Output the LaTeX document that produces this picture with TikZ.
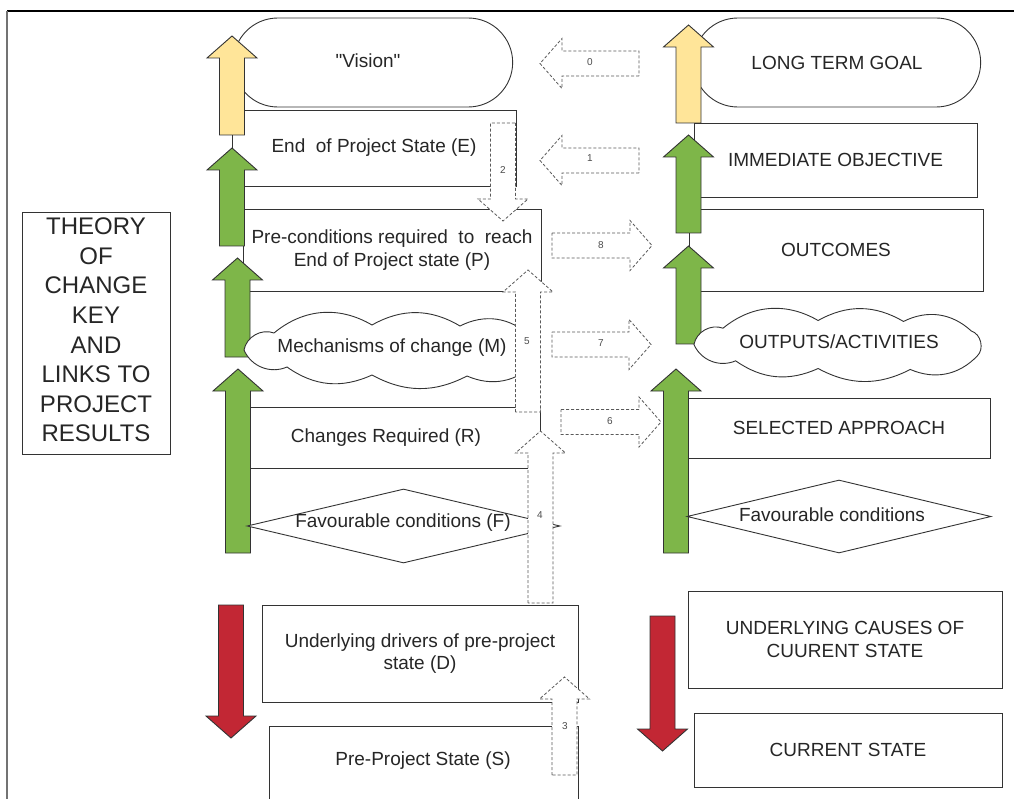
\documentclass[tikz,border=0pt]{standalone}
\usepackage{fontspec}
\setmainfont{Liberation Sans}
\usetikzlibrary{shapes.geometric, shapes.misc}
\definecolor{tocYellow}{RGB}{255,229,153}
\definecolor{tocGreen}{RGB}{126,182,73}
\definecolor{tocRed}{RGB}{194,39,52}
\definecolor{tocLine}{RGB}{51,51,51}
\newcommand{\blockarrow}[5]{%
\draw[#1, shift={(#2,#3)}, rotate=#4] (0,-12.5) -- ({#5-22},-12.5) -- ({#5-22},-25) -- (#5,0) -- ({#5-22},25) -- ({#5-22},12.5) -- (0,12.5) -- cycle;}
\tikzset{cloudy/.pic={
\draw[pic actions] (-148,0) to[bend left=50] (-118,-17) to[bend left=35] (-20,-25) to[bend left=30] (68,-24) to[bend left=35] (138,-14) to[bend left=60] (144,12) to[bend left=35] (75,26) to[bend left=28] (-20,25) to[bend left=30] (-105,17) to[bend left=45] (-148,0) -- cycle;
}}

\begin{document}
\begin{tikzpicture}[x=1pt, y=-1pt,
  every node/.style={font=\fontsize{19}{22.5}\selectfont, text=black!85},
  box/.style={draw=tocLine, fill=white, line width=0.9pt, inner sep=0pt, align=center},
  goal/.style={rounded rectangle, draw=tocLine, fill=white, line width=0.9pt},
  puff/.style={draw=tocLine, fill=white, line width=0.9pt},
  cond/.style={diamond, draw=tocLine, fill=white, line width=0.9pt, inner sep=0pt},
  yel/.style={draw=black!80, fill=tocYellow, line width=0.9pt},
  grn/.style={draw=black!80, fill=tocGreen, line width=0.9pt},
  redarr/.style={draw=black!80, fill=tocRed, line width=0.9pt},
  dasharr/.style={draw=black!65, fill=white, line width=0.8pt, dash pattern=on 3pt off 2pt},
  num/.style={font=\fontsize{10}{12}\selectfont, text=black!70}]
\useasboundingbox (0,0) rectangle (1014,799);
\draw[line width=1.3pt] (7,11) -- (1014,11);
\draw[black!55, line width=2pt] (7,11) -- (7,799);

\node[box, minimum width=148, minimum height=242] (key) at (96,333) {};
\node[align=center, font=\fontsize{24}{29.6}\selectfont] (keyt) at (96,330) {THEORY\\OF\\CHANGE\\KEY\\AND\\LINKS TO\\PROJECT\\RESULTS};

\node[goal, minimum width=286, minimum height=89] (vis) at (373,62.5) {};
\node (vist) at (368,61) {\textquotedbl Vision\textquotedbl};
\node[box, minimum width=284, minimum height=76] (eps) at (374,148) {End\ \ of Project State (E)};
\node[box, minimum width=298, minimum height=82] (pre) at (392,250) {Pre-conditions required\ \ to\ \ reach\\End of Project state (P)};
\node[box, minimum width=308, minimum height=61] (chg) at (386,437.5) {Changes Required (R)};
\node[box, minimum width=316, minimum height=97] (drv) at (420,653.5) {Underlying drivers of pre-project\\state (D)};
\node[box, minimum width=309, minimum height=90] (pps) at (423.5,771) {};
\node (ppst) at (423,761) {Pre-Project State (S)};

\node[goal, minimum width=294, minimum height=89] (ltg) at (837,62.5) {LONG TERM GOAL};
\node[box, minimum width=283, minimum height=74] (imo) at (835.5,160) {IMMEDIATE OBJECTIVE};
\node[box, minimum width=294, minimum height=82] (outc) at (836,250) {OUTCOMES};
\node[box, minimum width=302, minimum height=60] (sel) at (839,428) {SELECTED APPROACH};
\node[box, minimum width=314, minimum height=97] (ucs) at (845,639.5) {UNDERLYING CAUSES OF\\CUURENT STATE};
\node[box, minimum width=308, minimum height=74] (cst) at (848,750) {CURRENT STATE};

\blockarrow{yel}{232}{135}{90}{99}
\blockarrow{grn}{232}{246}{90}{98}
\blockarrow{grn}{237.5}{357}{90}{99}
\blockarrow{grn}{238}{553}{90}{184}
\blockarrow{redarr}{231}{605}{-90}{133}
\blockarrow{yel}{688.5}{123}{90}{98}
\blockarrow{grn}{688.5}{233}{90}{98}
\blockarrow{grn}{688.5}{344}{90}{98}
\blockarrow{grn}{676}{553}{90}{184}
\blockarrow{redarr}{662.5}{616}{-90}{135}

\pic[puff] (mech) at (392,350) {cloudy};
\node (mecht) at (392,348) {Mechanisms of change (M)};
\node[cond, minimum width=313, minimum height=74] (favl) at (403.5,526) {};
\node (favlt) at (403,523) {Favourable conditions (F)};
\pic[puff, xscale=0.97, yscale=0.96] (outp) at (837.5,344.5) {cloudy};
\node (outpt) at (839,342) {OUTPUTS/ACTIVITIES};
\node[cond, minimum width=304, minimum height=73] (favr) at (839,516.5) {};
\node (favrt) at (832,515) {Favourable conditions};

\foreach \x/\y/\ang/\len in {639/63.5/180/99, 639/160.5/180/99, 503/123/-90/98, 552/245.5/0/100, 528/412/90/142, 552/344.5/0/99, 561/422/0/100, 540.5/603/90/172, 564.5/775/90/98}{
\blockarrow{dasharr}{\x}{\y}{\ang}{\len}
}
\foreach \x/\y/\lab in {590/62/0, 590/158/1, 503/170/2, 565/726/3, 540/515/4, 527/341/5, 610/421/6, 601/343/7, 601/245/8}{
\node[num] (lab\lab) at (\x,\y) {\lab};
}
\end{tikzpicture}
\end{document}
